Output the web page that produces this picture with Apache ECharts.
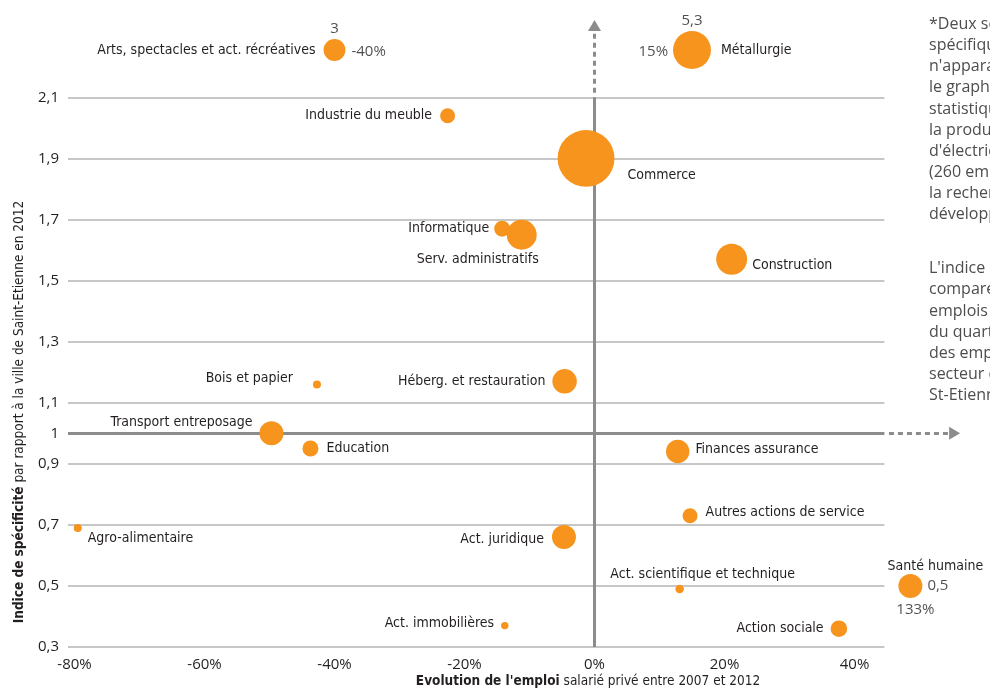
<!DOCTYPE html>
<html>
<head>
<meta charset="utf-8">
<script src="https://cdn.jsdelivr.net/npm/echarts@6/dist/echarts.min.js"></script>
<style>
  html, body { margin: 0; background: #fff; }
  #chart { width: 990px; height: 693px; }
</style>
</head>
<body>
<div id="chart"></div>
<script>
// secteurs d'activité
const secteurs = ['Arts, spectacles et act. récréatives', 'Métallurgie', 'Industrie du meuble', 'Commerce',
  'Informatique', 'Serv. administratifs', 'Construction', 'Bois et papier', 'Héberg. et restauration',
  'Transport entreposage', 'Education', 'Finances assurance', 'Autres actions de service', 'Act. juridique',
  'Act. scientifique et technique', 'Act. immobilières', 'Action sociale', 'Agro-alimentaire', 'Santé humaine']
// évolution de l'emploi 2007-2012 (%)
const evolution = [-40, 15, -22.6, -1.3, -14.2, -11.2, 21.1, -42.7, -4.6, -49.7, -43.7, 12.8, 14.7, -4.7, 13.1, -13.8, 37.6, -79.5, 133]
// indice de spécificité
const indice = [3, 5.3, 2.04, 1.9, 1.67, 1.65, 1.57, 1.16, 1.17, 1.0, 0.95, 0.94, 0.73, 0.66, 0.49, 0.37, 0.36, 0.69, 0.5]
// emplois (estimés d'après la taille des bulles)
const emplois = [1200, 3600, 560, 8100, 640, 2250, 2400, 160, 1500, 1450, 640, 1370, 560, 1440, 185, 140, 690, 160, 1440]

const yTicks = [0.3, 0.5, 0.7, 0.9, 1, 1.1, 1.3, 1.5, 1.7, 1.9, 2.1]
const xTicks = [-80, -60, -40, -20, 0, 20, 40]

const X_MIN = -81
const X_MAX = 57
const X_GRID_END = 44.6
const Y_MIN = 0.3
const Y_MAX = 2.35
// hors échelle : les bulles sont posées au bord du graphique
const Y_CAP = 2.255
const X_CAP = 48.6

const NARROW = "'Liberation Sans Narrow', 'DejaVu Sans Condensed', sans-serif"
const REG = "'Open Sans', 'Noto Sans', sans-serif"
const ORANGE = '#f7941d'

// position des étiquettes
const nameLabels = {
  'Arts, spectacles et act. récréatives': { position: 'left', distance: 8 },
  'Métallurgie': { position: 'right', distance: 10 },
  'Industrie du meuble': { position: 'left', distance: 8 },
  'Commerce': { position: 'right', distance: 13, offset: [0, 17] },
  'Informatique': { position: 'left', distance: 5 },
  'Serv. administratifs': { position: 'bottom', distance: 3, offset: [-44, 0] },
  'Construction': { position: 'right', distance: 5, offset: [0, 6] },
  'Bois et papier': { position: 'left', distance: 20, offset: [0, -6] },
  'Héberg. et restauration': { position: 'left', distance: 7 },
  'Transport entreposage': { position: 'left', distance: 7, offset: [0, -11] },
  'Education': { position: 'right', distance: 8 },
  'Finances assurance': { position: 'right', distance: 6, offset: [0, -2] },
  'Autres actions de service': { position: 'right', distance: 8, offset: [0, -3] },
  'Act. juridique': { position: 'left', distance: 8, offset: [0, 2] },
  'Act. scientifique et technique': { position: 'top', distance: 3, offset: [23, 0] },
  'Act. immobilières': { position: 'left', distance: 7, offset: [0, -2] },
  'Action sociale': { position: 'left', distance: 7 },
  'Agro-alimentaire': { position: 'right', distance: 6, offset: [0, 10] },
  'Santé humaine': { position: 'top', distance: 1, offset: [25, 0] }
}
const valueLabels = {
  'Arts, spectacles et act. récréatives': { position: 'top', distance: 3 },
  'Métallurgie': { position: 'top', distance: 3 },
  'Santé humaine': { position: 'right', distance: 5 }
}
const pctLabels = {
  'Arts, spectacles et act. récréatives': { position: 'right', distance: 6, offset: [0, 2] },
  'Métallurgie': { position: 'left', distance: 5, offset: [0, 2] },
  'Santé humaine': { position: 'bottom', distance: 4, offset: [5, 0] }
}

const fmt = v => String(v).replace('.', ',')
const sizeOf = v => Math.sqrt(v[2]) * 0.632

const points = secteurs.map((name, i) => ({
  name: name,
  value: [Math.min(evolution[i], X_CAP), Math.min(indice[i], Y_CAP), emplois[i]],
  label: nameLabels[name]
}))
const outliers = points.filter((p, i) => indice[i] > Y_CAP || evolution[i] > X_CAP)

const valuePoints = outliers.map(p => {
  const i = secteurs.indexOf(p.name)
  return { name: fmt(indice[i]), value: p.value, label: valueLabels[p.name] }
})
const pctPoints = outliers.map(p => {
  const i = secteurs.indexOf(p.name)
  return { name: Math.round(evolution[i]) + '%', value: p.value, label: pctLabels[p.name] }
})

// lignes du quadrillage
const thin = { color: '#b5b5b5', width: 1.5, type: 'solid' }
const bold = { color: '#8c8c8c', width: 3, type: 'solid' }
const dotted = { color: '#8c8c8c', width: 3, type: [5, 4] }
const lines = []
yTicks.filter(v => v !== 1).forEach(v => {
  lines.push([{ coord: [X_MIN, v], lineStyle: thin }, { coord: [X_GRID_END, v] }])
})
lines.push([{ coord: [X_MIN, 1], lineStyle: bold }, { coord: [X_GRID_END, 1] }])
lines.push([{ coord: [0, Y_MIN], lineStyle: bold }, { coord: [0, 2.1] }])
lines.push([{ coord: [0, 2.115], lineStyle: dotted }, { coord: [0, 2.335], symbol: 'triangle', symbolSize: [13, 11] }])
lines.push([{ coord: [45.3, 1], lineStyle: dotted }, { coord: [55.4, 1], symbol: 'triangle', symbolSize: [13, 11] }])

const chart = echarts.init(document.getElementById('chart'))
chart.setOption({
  animation: false,
  grid: { left: 68, right: 25, top: 21, bottom: 46 },
  xAxis: {
    type: 'value',
    min: X_MIN,
    max: X_MAX,
    axisLine: { show: false },
    axisTick: { show: false, customValues: xTicks },
    splitLine: { show: false },
    axisLabel: {
      customValues: xTicks,
      formatter: v => v + '%',
      color: '#231f20',
      fontFamily: REG,
      fontSize: 15,
      margin: 10
    }
  },
  yAxis: {
    type: 'value',
    min: Y_MIN,
    max: Y_MAX,
    axisLine: { show: false },
    axisTick: { show: false, customValues: yTicks },
    splitLine: { show: false },
    axisLabel: {
      customValues: yTicks,
      formatter: v => fmt(v),
      color: '#231f20',
      fontFamily: REG,
      fontSize: 15,
      margin: 9
    }
  },
  series: [
    {
      type: 'scatter',
      z: 3,
      data: points,
      symbolSize: sizeOf,
      itemStyle: { color: ORANGE, opacity: 1 },
      label: {
        show: true,
        formatter: '{b}',
        color: '#231f20',
        fontFamily: NARROW,
        fontSize: 14
      },
      emphasis: { disabled: true },
      silent: true,
      markLine: {
        z: 1,
        silent: true,
        symbol: 'none',
        label: { show: false },
        emphasis: { disabled: true },
        data: lines
      }
    },
    {
      type: 'scatter',
      z: 4,
      data: valuePoints.concat(pctPoints),
      symbolSize: sizeOf,
      itemStyle: { color: 'rgba(0,0,0,0)' },
      label: {
        show: true,
        formatter: '{b}',
        color: '#231f20',
        fontFamily: REG,
        fontSize: 15
      },
      emphasis: { disabled: true },
      silent: true
    }
  ],
  graphic: [
    {
      type: 'text',
      x: 588,
      y: 681,
      style: {
        text: "{b|Evolution de l'emploi} salarié privé entre 2007 et 2012",
        rich: { b: { fontWeight: 'bold', fontFamily: NARROW, fontSize: 13.5, fill: '#231f20' } },
        fontFamily: NARROW,
        fontSize: 13.5,
        fill: '#231f20',
        align: 'center',
        verticalAlign: 'middle'
      }
    },
    {
      type: 'text',
      x: 19,
      y: 412,
      rotation: Math.PI / 2,
      style: {
        text: '{b|Indice de spécificité} par rapport à la ville de Saint-Etienne en 2012',
        rich: { b: { fontWeight: 'bold', fontFamily: NARROW, fontSize: 13.5, fill: '#231f20' } },
        fontFamily: NARROW,
        fontSize: 13.5,
        fill: '#231f20',
        align: 'center',
        verticalAlign: 'middle'
      }
    },
    {
      type: 'text',
      x: 929,
      y: 14,
      style: {
        text: "*Deux secteurs très\nspécifiques\nn'apparaissent pas sur\nle graphique (secret\nstatistique) :\nla production et distribution\nd'électricité\n(260 emplois) et\nla recherche et\ndéveloppement.",
        fontFamily: REG,
        fontSize: 16,
        lineHeight: 21.1,
        fill: '#4d4d4d'
      }
    },
    {
      type: 'text',
      x: 929,
      y: 258,
      style: {
        text: "L'indice de spécificité\ncompare la part des\nemplois d'un secteur\ndu quartier à celle\ndes emplois du même\nsecteur dans la ville de\nSt-Etienne.",
        fontFamily: REG,
        fontSize: 16,
        lineHeight: 21.2,
        fill: '#4d4d4d'
      }
    }
  ]
})
</script>
</body>
</html>
